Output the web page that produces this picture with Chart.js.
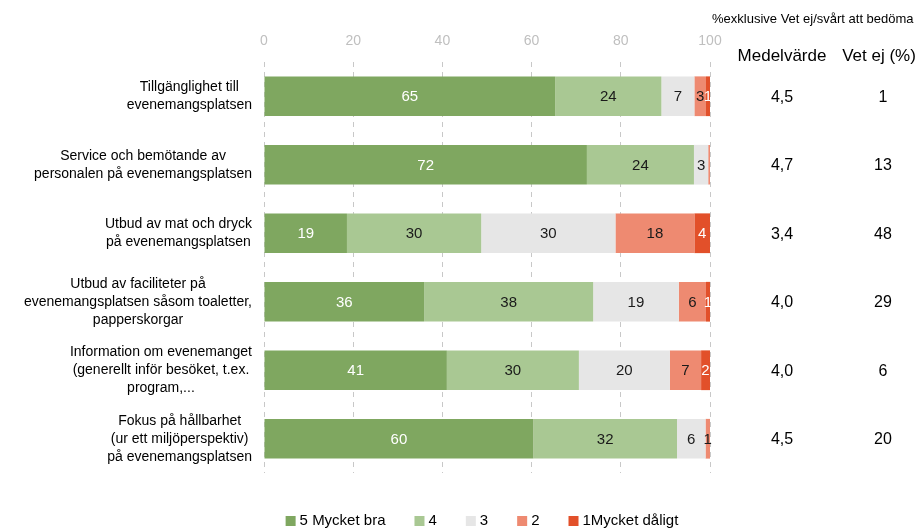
<!DOCTYPE html>
<html>
<head>
  <meta charset="UTF-8">
  <script src="https://cdn.jsdelivr.net/npm/chart.js@4.4.0/dist/chart.umd.min.js"></script>
  <style>
    body { margin: 0; background: #fff; }
    #wrap { width: 918px; height: 531px; }
  </style>
</head>
<body>
  <div id="wrap"><canvas id="myChart" width="918" height="531"></canvas></div>
  <script>
    // frågor (radbrytning som i originalet)
    const categories = [
      ['Tillgänglighet till', 'evenemangsplatsen'],
      ['Service och bemötande av', 'personalen på evenemangsplatsen'],
      ['Utbud av mat och dryck', 'på evenemangsplatsen'],
      ['Utbud av faciliteter på', 'evenemangsplatsen såsom toaletter,', 'papperskorgar'],
      ['Information om evenemanget', '(generellt inför besöket, t.ex.', 'program,...'],
      ['Fokus på hållbarhet', '(ur ett miljöperspektiv)', 'på evenemangsplatsen']
    ];
    const seriesNames = ['5 Mycket bra', '4', '3', '2', '1Mycket dåligt'];
    const s5 = [65.3, 72.4, 18.6, 35.9, 41.0, 60.4];
    const s4 = [23.8, 24.0, 30.1, 37.9, 29.6, 32.2];
    const s3 = [7.4, 3.2, 30.1, 19.2, 20.4, 6.4];
    const s2 = [2.6, 0.4, 17.7, 6.1, 7.0, 1.0];
    const s1 = [0.9, 0.0, 3.5, 0.9, 2.0, 0.0];
    const medel = ['4,5', '4,7', '3,4', '4,0', '4,0', '4,5'];
    const vetEj = ['1', '13', '48', '29', '6', '20'];
    const xTicks = [0, 20, 40, 60, 80, 100];

    const colors = ['#7fa760', '#a9c893', '#e6e6e6', '#ee8a71', '#e2502a'];
    const labelColors = ['#ffffff', '#1a1a1a', '#1a1a1a', '#1a1a1a', '#ffffff'];
    const FONT = '"Liberation Sans", Arial, sans-serif';

    const extras = {
      id: 'extras',
      afterDatasetsDraw(chart) {
        const ctx = chart.ctx;
        ctx.save();
        ctx.font = '15px ' + FONT;
        ctx.textAlign = 'center';
        ctx.textBaseline = 'middle';
        chart.data.datasets.forEach((ds, di) => {
          const meta = chart.getDatasetMeta(di);
          meta.data.forEach((bar, i) => {
            const v = Math.round(ds.data[i]);
            if (v < 1) return;
            ctx.fillStyle = labelColors[di];
            ctx.fillText(String(v), (bar.x + bar.base) / 2, bar.y + 1);
          });
        });
        ctx.restore();
      },
      afterDraw(chart) {
        const ctx = chart.ctx;
        const yScale = chart.scales.y;
        ctx.save();
        ctx.fillStyle = '#000';
        ctx.textBaseline = 'middle';

        // kategorietiketter, centrerade per etikett, högerställda mot x=252
        ctx.font = '14px ' + FONT;
        categories.forEach((lines, i) => {
          const yc = yScale.getPixelForValue(i);
          const w = Math.max(...lines.map(l => ctx.measureText(l).width));
          const cx = 252 - w / 2;
          ctx.textAlign = 'center';
          lines.forEach((l, k) => {
            ctx.fillText(l, cx, yc + (k - (lines.length - 1) / 2) * 18);
          });
        });

        // högerkolumner
        ctx.textAlign = 'center';
        ctx.font = '17px ' + FONT;
        ctx.fillText('Medelvärde', 782, 56);
        ctx.fillText('Vet ej (%)', 879, 56);
        ctx.font = '16px ' + FONT;
        medel.forEach((m, i) => {
          const yc = yScale.getPixelForValue(i);
          ctx.fillText(m, 782, yc + 1);
          ctx.fillText(vetEj[i], 883, yc + 1);
        });

        ctx.textAlign = 'left';
        ctx.font = '13px ' + FONT;
        ctx.fillText('%exklusive Vet ej/svårt att bedöma', 712, 19);

        // legend
        ctx.font = '15px ' + FONT;
        const gap = 29, box = 10;
        const widths = seriesNames.map(n => box + 4 + ctx.measureText(n).width);
        const total = widths.reduce((a, b) => a + b, 0) + gap * (seriesNames.length - 1);
        let x = 482 - total / 2;
        const ly = 521;
        seriesNames.forEach((n, i) => {
          ctx.fillStyle = colors[i];
          ctx.fillRect(x, ly - 5, box, box);
          ctx.fillStyle = '#000';
          ctx.fillText(n, x + box + 4, ly);
          x += widths[i] + gap;
        });
        ctx.restore();
      }
    };

    const datasets = [s5, s4, s3, s2, s1].map((d, i) => ({
      label: seriesNames[i],
      data: d,
      backgroundColor: colors[i],
      borderWidth: 0,
      categoryPercentage: 1,
      barPercentage: 0.58
    }));

    new Chart(document.getElementById('myChart'), {
      type: 'bar',
      data: { labels: categories.map(c => c.join(' ')), datasets: datasets },
      options: {
        responsive: false,
        animation: false,
        indexAxis: 'y',
        layout: { padding: { left: 0, right: 208, top: 0, bottom: 58 } },
        plugins: { legend: { display: false }, tooltip: { enabled: false } },
        scales: {
          x: {
            position: 'top',
            stacked: true,
            min: 0,
            max: 100,
            afterBuildTicks: s => { s.ticks = xTicks.map(v => ({ value: v })); },
            afterFit: s => { s.height = 62; },
            border: { display: false, dash: [5, 5] },
            grid: { color: '#c8c8c8', drawTicks: false },
            ticks: { color: '#bfbfbf', font: { family: FONT, size: 14 }, padding: 12 }
          },
          y: {
            stacked: true,
            afterFit: s => { s.width = 264; },
            border: { display: false },
            grid: { display: false },
            ticks: { display: false }
          }
        }
      },
      plugins: [extras]
    });
  </script>
</body>
</html>
